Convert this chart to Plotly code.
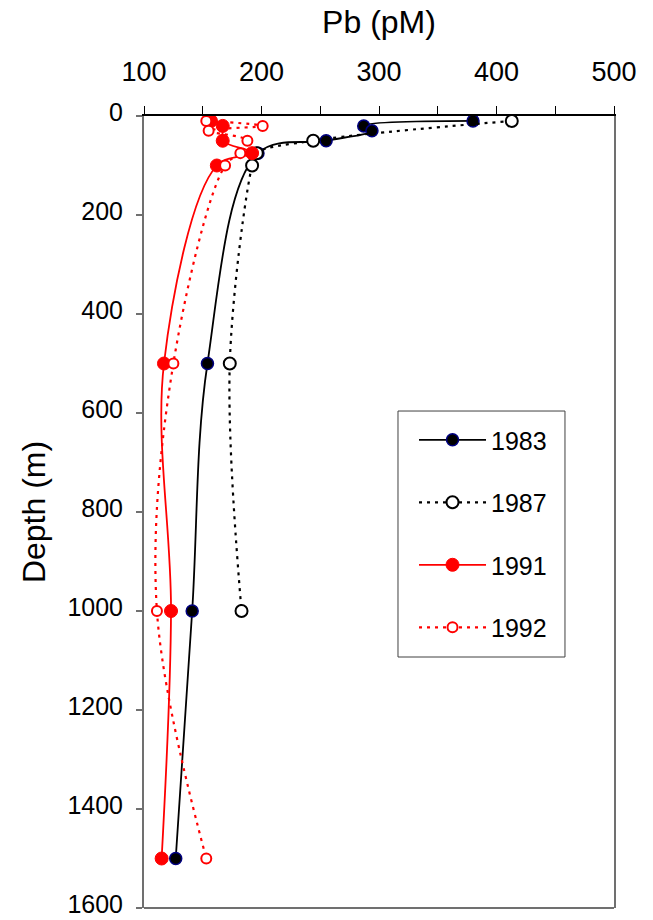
import plotly.graph_objects as go

# ---- data (Pb in pM vs depth in m) ----
depth_1983 = [10, 20, 30, 50, 75, 500, 1000, 1500]
pb_1983 = [380, 287, 294, 255, 197, 154, 141, 127]

depth_1987 = [10, 50, 75, 100, 500, 1000]
pb_1987 = [413, 244, 196, 192, 173, 183]

depth_1991 = [10, 20, 50, 75, 100, 500, 1000, 1500]
pb_1991 = [157, 167, 167, 192, 162, 117, 123, 115]

depth_1992 = [10, 20, 30, 50, 75, 100, 500, 1000, 1500]
pb_1992 = [153, 201, 155, 188, 182, 169, 125, 111, 153]

x_ticks = [100, 200, 300, 400, 500]
y_ticks = [0, 200, 400, 600, 800, 1000, 1200, 1400, 1600]

FONT = "Liberation Sans, Arial, sans-serif"

fig = go.Figure()

fig.add_trace(go.Scatter(
    x=pb_1983, y=depth_1983, name="1983", mode="lines+markers",
    line=dict(color="black", width=1.8, shape="spline", smoothing=1),
    marker=dict(symbol="circle", size=12, color="black",
                line=dict(color="#000080", width=1.5)),
    legendgroup="a"))
fig.add_trace(go.Scatter(
    x=pb_1987, y=depth_1987, name="1987", mode="lines+markers",
    line=dict(color="black", width=2.2, shape="spline", smoothing=1, dash="3px,5px"),
    marker=dict(symbol="circle", size=12, color="white",
                line=dict(color="black", width=2)),
    legendgroup="b"))
fig.add_trace(go.Scatter(
    x=pb_1991, y=depth_1991, name="1991", mode="lines+markers",
    line=dict(color="#ff0000", width=1.8, shape="spline", smoothing=1),
    marker=dict(symbol="circle", size=13, color="#ff0000",
                line=dict(color="#ff0000", width=1)),
    legendgroup="c"))
fig.add_trace(go.Scatter(
    x=pb_1992, y=depth_1992, name="1992", mode="lines+markers",
    line=dict(color="#ff0000", width=2.2, shape="spline", smoothing=1, dash="3px,5px"),
    marker=dict(symbol="circle", size=10, color="white",
                line=dict(color="#ff0000", width=2)),
    legendgroup="d"))

fig.update_layout(
    width=653, height=920,
    margin=dict(l=144, r=39, t=116, b=12, autoexpand=False),
    paper_bgcolor="white", plot_bgcolor="white",
    font=dict(family=FONT, size=25, color="black"),
    showlegend=True,
    legend=dict(x=0.5745, y=0.6199, xanchor="left", yanchor="top",
                borderwidth=0, bgcolor="rgba(0,0,0,0)",
                font=dict(size=25), tracegroupgap=27, itemwidth=67),
    xaxis=dict(side="top", range=[100, 500], tickvals=x_ticks,
               tickfont=dict(size=27), ticklabeloverflow="allow", automargin=False,
               ticks="outside", ticklen=8, tickcolor="black", tickwidth=1,
               minor=dict(dtick=50, ticks="outside", ticklen=8, tickcolor="black"),
               showline=True, linecolor="black", linewidth=1.5,
               showgrid=False, zeroline=False, ticklabelstandoff=14,
               title=dict(text="Pb (pM)", font=dict(size=32), standoff=14)),
    yaxis=dict(range=[1600, 0], tickvals=y_ticks,
               tickfont=dict(size=25), ticklabeloverflow="allow", automargin=False,
               ticks="outside", ticklen=6, tickcolor="#707070", tickwidth=1.5,
               showline=True, linecolor="#707070", linewidth=2, mirror=True,
               showgrid=False, zeroline=False, ticklabelstandoff=8,
               ticklabelshift=4,
               title=dict(text="Depth (m)", font=dict(size=32), standoff=12)),
    shapes=[
        dict(type="line", xref="paper", yref="paper", x0=0, x1=1, y0=0, y1=0,
             line=dict(color="#707070", width=2)),
        # legend frame
        dict(type="rect", xref="paper", yref="paper",
             x0=0.5404, x1=0.8957, y0=0.3169, y1=0.6275,
             line=dict(color="#404040", width=1), fillcolor="rgba(0,0,0,0)",
             layer="above"),
    ],
)

fig.write_html("out.html", config={"displayModeBar": False},
               post_script="document.body.style.margin='0';")
